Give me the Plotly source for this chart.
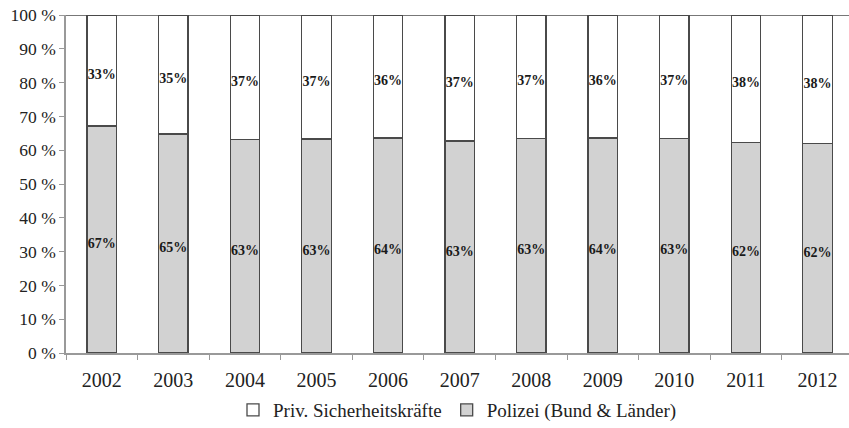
import plotly.graph_objects as go

years = ["2002", "2003", "2004", "2005", "2006", "2007", "2008", "2009", "2010", "2011", "2012"]
polizei = [67.2, 64.8, 63.1, 63.3, 63.6, 62.7, 63.4, 63.6, 63.4, 62.3, 62.0]
privat = [round(100 - p, 1) for p in polizei]
y_ticks = [0, 10, 20, 30, 40, 50, 60, 70, 80, 90, 100]
y_tick_labels = [f"{v} %" for v in y_ticks]

FONT = "Liberation Serif"
EDGE = "#4a4a4a"
GRAY = "#d2d2d2"
TXT = "#222222"

fig = go.Figure()
fig.add_trace(go.Bar(
    x=years, y=polizei, name="Polizei (Bund & Länder)",
    marker=dict(color=GRAY, line=dict(color=EDGE, width=1.3)),
    width=0.41,
))
fig.add_trace(go.Bar(
    x=years, y=privat, name="Priv. Sicherheitskräfte",
    marker=dict(color="white", line=dict(color=EDGE, width=1.3)),
    width=0.41,
))
fig.add_trace(go.Scatter(
    x=years, y=[p / 2 - 1.5 for p in polizei], mode="text",
    text=[f"{round(p)}%" for p in polizei],
    textfont=dict(family=FONT, size=14, color="#1a1a1a", weight="bold"),
    showlegend=False, hoverinfo="skip", cliponaxis=False,
))
fig.add_trace(go.Scatter(
    x=years, y=[p + q / 2 - 1.5 for p, q in zip(polizei, privat)], mode="text",
    text=[f"{round(q)}%" for q in privat],
    textfont=dict(family=FONT, size=14, color="#1a1a1a", weight="bold"),
    showlegend=False, hoverinfo="skip", cliponaxis=False,
))

fig.add_shape(type="line", xref="paper", yref="y", x0=0, x1=1, y0=100, y1=100,
              line=dict(color=EDGE, width=1.5))

fig.update_layout(
    width=849, height=428,
    margin=dict(l=66, r=0, t=15, b=75, autoexpand=False),
    barmode="stack",
    plot_bgcolor="white", paper_bgcolor="white",
    font=dict(family=FONT, size=18, color=TXT),
    legend=dict(
        orientation="h", x=0.5, xanchor="center", y=-0.169, yanchor="middle",
        traceorder="reversed", font=dict(family=FONT, size=19, color=TXT),
    ),
    xaxis=dict(
        type="category", range=[-0.5, 10.44],
        showline=True, linecolor="#999999", linewidth=1.5,
        ticks="outside", tickson="boundaries", ticklen=5, tickcolor="#999999",
        tickfont=dict(family=FONT, size=20, color=TXT), ticklabelstandoff=8,
        showgrid=False, zeroline=False, automargin=False,
    ),
    yaxis=dict(
        range=[0, 100], tickmode="array", tickvals=y_ticks, ticktext=y_tick_labels,
        showline=True, linecolor="#999999", linewidth=1.5,
        ticks="outside", ticklen=5, tickcolor="#999999",
        tickfont=dict(family=FONT, size=17.5, color=TXT),
        showgrid=False, zeroline=False, automargin=False,
    ),
)

# remove the browser's default 8px page margin so the figure sits at the window's corner
fig.write_html("out.html", config={"displayModeBar": False},
               post_script="document.body.style.margin='0';")
